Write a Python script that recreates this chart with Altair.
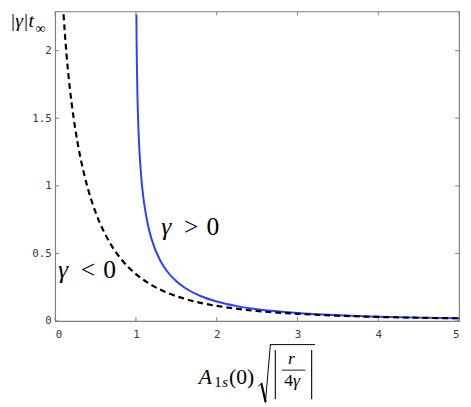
import altair as alt
import pandas as pd

# ---- data ----
neg_x = [0.104, 0.12, 0.14, 0.16, 0.18, 0.2, 0.25, 0.3, 0.35, 0.4, 0.5, 0.6, 0.7,
         0.8, 0.9, 1.0, 1.2, 1.4, 1.6, 1.8, 2.0, 2.5, 3.0, 3.5, 4.0, 4.5, 5.0]
neg_y = [2.269, 2.127, 1.976, 1.845, 1.731, 1.629, 1.417, 1.247, 1.108, 0.990, 0.805,
         0.665, 0.556, 0.470, 0.402, 0.347, 0.264, 0.206, 0.165, 0.134, 0.112, 0.074,
         0.053, 0.039, 0.030, 0.024, 0.020]
pos_x = [1.0054, 1.008, 1.012, 1.02, 1.03, 1.04, 1.06, 1.08, 1.1, 1.15, 1.2, 1.3, 1.4,
         1.5, 1.6, 1.8, 2.0, 2.25, 2.5, 3.0, 3.5, 4.0, 4.5, 5.0]
pos_y = [2.268, 2.074, 1.874, 1.624, 1.429, 1.292, 1.104, 0.974, 0.876, 0.706, 0.593,
         0.448, 0.357, 0.294, 0.248, 0.185, 0.144, 0.110, 0.087, 0.059, 0.043, 0.032,
         0.025, 0.020]
x_ticks = [0, 1, 2, 3, 4, 5]
y_ticks = [0, 0.5, 1, 1.5, 2]

W, H = 411, 315
GRAY = "#808080"
SERIF = "Liberation Serif"
MONO = "DejaVu Sans Mono"

xs = alt.Scale(domain=[0, 5], nice=False)
ys = alt.Scale(domain=[0, 2.29], nice=False)
xaxis = alt.Axis(values=x_ticks, title=None, grid=False, domain=False, ticks=False,
                 labelFont=MONO, labelFontSize=11, labelColor="#3a3a3a",
                 labelPadding=8, format="~g")
yaxis = alt.Axis(values=y_ticks, title=None, grid=False, domain=False, ticks=False,
                 labelFont=MONO, labelFontSize=11, labelColor="#3a3a3a",
                 labelPadding=4, format="~g")

df_neg = pd.DataFrame({"x": neg_x, "y": neg_y})
df_pos = pd.DataFrame({"x": pos_x, "y": pos_y})
df_xt = pd.DataFrame({"x": x_ticks})
df_yt = pd.DataFrame({"y": y_ticks})

X = alt.X("x:Q", scale=xs, axis=xaxis)
Y = alt.Y("y:Q", scale=ys, axis=yaxis)

pos = alt.Chart(df_pos).mark_line(color="#2a40ff", strokeWidth=2, clip=True,
                                  interpolate="monotone").encode(x=X, y=Y)
neg = alt.Chart(df_neg).mark_line(color="black", strokeWidth=2.2, strokeDash=[6, 4],
                                  clip=True, interpolate="monotone").encode(x=X, y=Y)

tick_b = alt.Chart(df_xt).mark_rule(color=GRAY).encode(x=X, y=alt.value(H), y2=alt.value(H - 4))
tick_t = alt.Chart(df_xt).mark_rule(color=GRAY).encode(x=X, y=alt.value(0), y2=alt.value(4))
tick_l = alt.Chart(df_yt).mark_rule(color=GRAY).encode(y=Y, x=alt.value(0), x2=alt.value(4))
tick_r = alt.Chart(df_yt).mark_rule(color=GRAY).encode(y=Y, x=alt.value(W), x2=alt.value(W - 4))


def label(txt, px, py, size, style="normal", family=SERIF):
    return alt.Chart(pd.DataFrame({"t": [txt]})).mark_text(
        align="left", baseline="alphabetic", font=family, fontSize=size,
        fontStyle=style, color="black").encode(
        x=alt.value(px), y=alt.value(py), text="t:N")


def seg(x1, y1, x2, y2, w=1.0):
    return alt.Chart(pd.DataFrame({"a": [0]})).mark_rule(
        color="black", strokeWidth=w, strokeCap="round").encode(
        x=alt.value(x1), y=alt.value(y1), x2=alt.value(x2), y2=alt.value(y2))


texts = [
    # y title |γ|t∞
    label("|γ|t", -46, 16, 20, "italic"),
    label("∞", -20, 22, 14),
    # curve labels
    label("γ", 108, 227, 26, "italic"),
    label(">", 131, 227, 26),
    label("0", 154, 227, 26),
    label("γ", 3, 271, 26, "italic"),
    label("<", 26, 271, 26),
    label("0", 49, 271, 26),
    # x title  A_1s(0) sqrt(|r / 4γ|)
    label("A", 146, 379, 22, "italic"),
    label("1", 162, 382, 15),
    label("s", 170, 382, 15, "italic"),
    label("(0)", 177, 379, 22),
    # radical sign and |...| delimiters
    seg(207, 381, 210, 379, 1.0),
    seg(210, 379, 214, 397, 2.2),
    seg(214, 397, 219, 339, 1.0),
    seg(219, 339, 264, 339, 1.0),
    seg(224, 345, 224, 394, 1.1),
    seg(261, 345, 261, 394, 1.1),
    label("r", 237, 359, 18, "italic"),
    seg(231, 365, 254, 365, 0.9),
    label("4", 233, 381, 18),
    label("γ", 242, 381, 18, "italic"),
]

chart = alt.layer(tick_b, tick_t, tick_l, tick_r, pos, neg, *texts).properties(
    width=W, height=H,
    autosize=alt.AutoSizeParams(type="none"),
    padding={"left": 48, "top": 0, "right": 4, "bottom": 84},
).configure_view(stroke=GRAY, strokeWidth=1.2)

chart.save("out.html", embed_options={"renderer": "svg", "actions": False})
